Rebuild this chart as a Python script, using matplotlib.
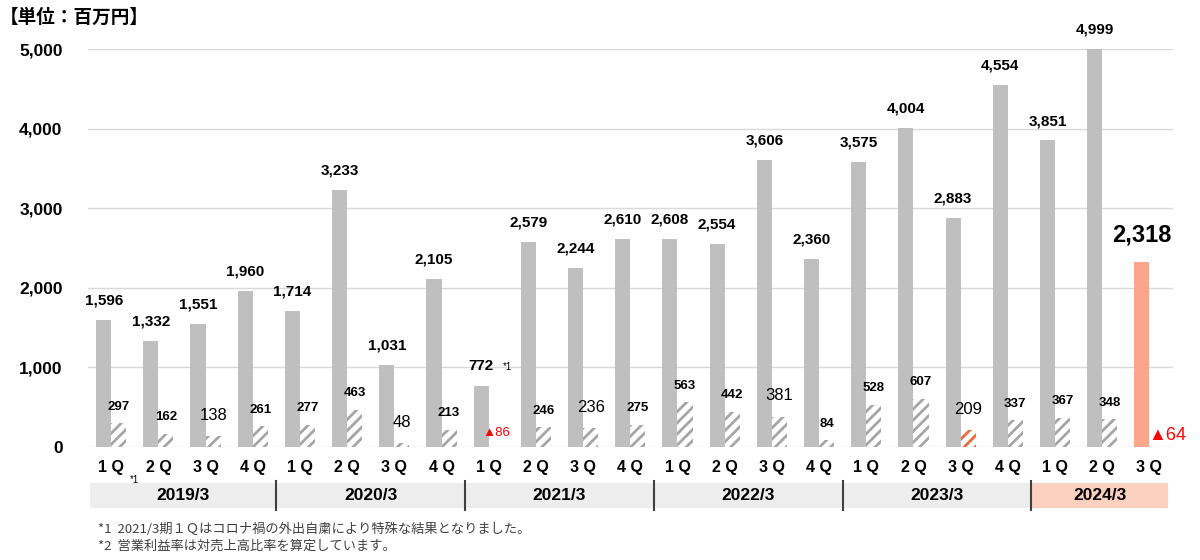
import numpy as np
import matplotlib.pyplot as plt
from matplotlib.patches import Rectangle
import matplotlib.transforms as mtransforms

# data (百万円)
quarters = ['1 Q', '2 Q', '3 Q', '4 Q'] * 5 + ['1 Q', '2 Q', '3 Q']
years = ['2019/3', '2020/3', '2021/3', '2022/3', '2023/3', '2024/3']
sales = [1596, 1332, 1551, 1960, 1714, 3233, 1031, 2105, 772, 2579, 2244, 2610,
         2608, 2554, 3606, 2360, 3575, 4004, 2883, 4554, 3851, 4999, 2318]
profit = [297, 162, 138, 261, 277, 463, 48, 213, -86, 246, 236, 275,
          563, 442, 381, 84, 528, 607, 209, 337, 367, 348, -64]

num_font = ['Liberation Sans', 'DejaVu Sans']
jp_font = ['Noto Sans CJK JP', 'DejaVu Sans']

GRAY = '#BFBFBF'
HATCH_GRAY = '#A6A6A6'
SALMON = '#F9A68C'
HATCH_RED = '#F26A3C'

plt.rcParams['hatch.linewidth'] = 2.0

fig = plt.figure(figsize=(12, 5.6), dpi=100)
ax = fig.add_axes([0.073, 1 - 447 / 560, 0.9045, 398 / 560])

n = len(sales)
x = np.arange(n)
w = 0.32
off = 0.16

sales_colors = [GRAY] * (n - 1) + [SALMON]
ax.bar(x - off, sales, width=w, color=sales_colors, zorder=3)

for i in range(n):
    ec = HATCH_RED if i == 18 else HATCH_GRAY
    ax.bar(x[i] + off, profit[i], width=w, color='white', edgecolor=ec,
           hatch='///', linewidth=0, zorder=3)

ax.set_xlim(-0.5, n - 0.5)
ax.set_ylim(0, 5000)
ax.set_yticks(range(0, 5001, 1000))
ax.set_yticklabels([f'{v:,}' for v in range(0, 5001, 1000)],
                   fontsize=12.5, fontweight='bold', family=num_font)
ax.tick_params(axis='y', length=0, pad=18)
ax.set_xticks([])
ax.grid(axis='y', color='#D9D9D9', linewidth=1, zorder=0)
for s in ax.spines.values():
    s.set_visible(False)

# sales labels
for i, v in enumerate(sales):
    if i == n - 1:
        ax.annotate(f'{v:,}', (x[i] - off, v), xytext=(0, 20), textcoords='offset points',
                    ha='center', va='center', fontsize=17, fontweight='bold', family=num_font)
    else:
        ax.annotate(f'{v:,}', (x[i] - off, v), xytext=(0, 14), textcoords='offset points',
                    ha='center', va='center', fontsize=11, fontweight='bold', family=num_font)

# profit labels
for i, v in enumerate(profit):
    if v < 0:
        big = i == n - 1
        ax.annotate(f'▲{-v}', (x[i] + off + (0.22 if big else 0), 0),
                    xytext=(0, 8 if big else 10), textcoords='offset points',
                    ha='center', va='center', color='#FF0000',
                    fontsize=13 if big else 9.5, family=num_font)
    elif quarters[i] == '3 Q':
        ax.annotate(f'{v:,}', (x[i] + off, v), xytext=(0, 15), textcoords='offset points',
                    ha='center', va='center', fontsize=12, family=num_font)
    else:
        ax.annotate(f'{v:,}', (x[i] + off, v), xytext=(0, 12), textcoords='offset points',
                    ha='center', va='center', fontsize=9.5, fontweight='bold', family=num_font)

ax.annotate('*1', (x[8] - off, sales[8]), xytext=(19, 13), textcoords='offset points',
            ha='center', va='center', fontsize=7, family=num_font)

# quarter labels and fiscal year bands
trans = mtransforms.blended_transform_factory(ax.transData, ax.transAxes)
for i, q in enumerate(quarters):
    ax.text(x[i], -0.052, q, transform=trans, ha='center', va='center',
            fontsize=11.5, fontweight='bold', family=num_font)

band_y = (447 - 508) / 398
band_h = 25 / 398
for k, yr in enumerate(years):
    start = k * 4 - 0.5
    end = min(k * 4 + 3.5, n - 0.5)
    left = max(start, -0.45)
    right = min(end, n - 0.6)
    col = '#FBD0BE' if k == len(years) - 1 else '#EDEDED'
    ax.add_patch(Rectangle((left, band_y), right - left, band_h, transform=trans,
                           facecolor=col, edgecolor='none', clip_on=False, zorder=1))
    ax.text((left + right) / 2, band_y + band_h / 2, yr, transform=trans,
            ha='center', va='center', fontsize=12.5, fontweight='bold', family=num_font)
    if k > 0:
        ax.plot([start, start], [band_y - 0.005, band_y + band_h + 0.005], transform=trans,
                color='#404040', linewidth=1.5, clip_on=False, zorder=2)

ax.text(0.5, band_y + band_h + 0.008, '*1', transform=trans, ha='center', va='center',
        fontsize=7, family=num_font)

fig.text(0.0, 1 - 17 / 560, '【単位：百万円】', ha='left', va='center',
         fontsize=13.4, fontweight='bold', family=jp_font)
fig.text(98 / 1200, 1 - 529 / 560, '*1  2021/3期１Ｑはコロナ禍の外出自粛により特殊な結果となりました。',
         ha='left', va='center', fontsize=9.5, color='#404040', family=jp_font)
fig.text(98 / 1200, 1 - 546 / 560, '*2  営業利益率は対売上高比率を算定しています。',
         ha='left', va='center', fontsize=9.5, color='#404040', family=jp_font)

fig.savefig('out.png', dpi=100)
